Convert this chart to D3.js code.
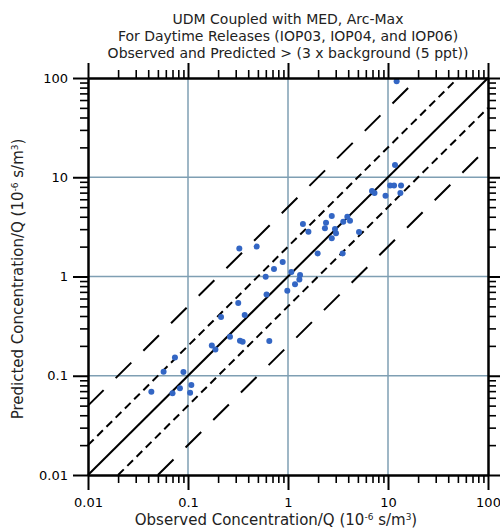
<!DOCTYPE html>
<html><head><meta charset="utf-8">
<script src="https://cdn.jsdelivr.net/npm/d3@7"></script>
<style>
body{margin:0;background:#fff}
svg{display:block}
text{font-family:"DejaVu Sans",Verdana,sans-serif}
</style>
</head><body>
<svg id="c" width="500" height="530"></svg>
<script>
// ---- data ----
const titleLines = [
  "UDM Coupled with MED, Arc-Max",
  "For Daytime Releases (IOP03, IOP04, and IOP06)",
  "Observed and Predicted > (3 x background (5 ppt))"
];
const observed = [0.043,0.057,0.070,0.074,0.083,0.090,0.105,0.108,0.173,0.188,
  0.263,0.331,0.352,0.650,0.214,0.318,0.369,0.610,0.984,1.175,
  1.30,1.32,1.08,0.598,0.724,0.885,0.326,0.486,1.41,1.60,
  1.98,2.40,2.34,2.74,2.95,3.02,2.74,3.57,3.92,4.17,
  5.13,3.52,6.92,7.33,9.44,10.5,11.5,13.5,13.3,11.75,12.2];
const predicted = [0.069,0.110,0.0665,0.153,0.0748,0.109,0.0675,0.0807,0.202,0.184,
  0.247,0.225,0.220,0.224,0.391,0.541,0.409,0.659,0.719,0.834,
  0.933,1.035,1.11,0.995,1.19,1.40,1.92,2.0,3.38,2.83,
  1.71,3.48,3.06,4.07,3.01,2.72,2.43,3.57,4.0,3.65,
  2.81,1.71,7.27,6.94,6.52,8.26,8.26,8.26,6.94,13.3,93];
const majorTicks = [0.01,0.1,1,10,100];
const tickLabels = ["0.01","0.1","1","10","100"];
const gridValues = [0.1,1,10];
const factors = [1,2,5];
const xTitle = ["Observed Concentration/Q (10","-6"," s/m","3",")"];
const yTitle = ["Predicted Concentration/Q (10","-6"," s/m","3",")"];

// ---- chart ----
const svg = d3.select("#c");
const x = d3.scaleLog().domain([0.01,100]).range([88,488]);
const y = d3.scaleLog().domain([0.01,100]).range([475,78]);
const minorTicks = [];
[0.01,0.1,1,10].forEach(d => { for (let k=2;k<=9;k++) minorTicks.push(+(d*k).toPrecision(3)); });

const gridColor = "#7f9fb3";
const g = svg.append("g");
g.selectAll("line.vg").data(gridValues).join("line")
  .attr("x1", d=>x(d)).attr("x2", d=>x(d)).attr("y1", y(100)).attr("y2", y(0.01))
  .attr("stroke", gridColor).attr("stroke-width", 1.5);
g.selectAll("line.hg").data(gridValues).join("line")
  .attr("y1", d=>y(d)).attr("y2", d=>y(d)).attr("x1", x(0.01)).attr("x2", x(100))
  .attr("stroke", gridColor).attr("stroke-width", 1.5);

// reference lines
const dashFor = {1:null, 2:"8,5", 5:"22,17"};
const refLines = [];
factors.forEach(f => {
  refLines.push({f, pts:[[0.01, 0.01*f],[100/f, 100]]});
  if (f !== 1) refLines.push({f, pts:[[0.01*f, 0.01],[100, 100/f]]});
});
const line = d3.line().x(d=>x(d[0])).y(d=>y(d[1]));
svg.append("g").selectAll("path").data(refLines).join("path")
  .attr("d", d=>line(d.pts)).attr("fill","none").attr("stroke","#000")
  .attr("stroke-width", 2).attr("stroke-dasharray", d=>dashFor[d.f]);

// points
svg.append("g").selectAll("circle").data(observed.map((o,i)=>[o,predicted[i]])).join("circle")
  .attr("cx", d=>x(d[0])).attr("cy", d=>y(d[1])).attr("r", 3).attr("fill","#3366c4");

// axes
function styleAxis(sel, w){
  sel.selectAll("path.domain").attr("stroke","#000").attr("stroke-width",2);
  sel.selectAll(".tick line").attr("stroke","#000").attr("stroke-width",w);
  sel.selectAll(".tick text").attr("fill","#000").style("font-size","13px")
    .style("font-family",'"DejaVu Sans",Verdana,sans-serif');
}
const fmt = d => tickLabels[majorTicks.indexOf(d)];
const axes = [
  [d3.axisBottom(x), "translate(0,475)", true],
  [d3.axisTop(x), "translate(0,78)", false],
  [d3.axisLeft(y), "translate(88,0)", true],
  [d3.axisRight(y), "translate(488,0)", false]
];
axes.forEach(([ax, tr, lab]) => {
  const gm = svg.append("g").attr("transform", tr)
    .call(ax.tickValues(minorTicks).tickSize(8).tickSizeOuter(0).tickFormat(""));
  styleAxis(gm, 1.6);
  const gM = svg.append("g").attr("transform", tr)
    .call(ax.tickValues(majorTicks).tickSize(15).tickSizeOuter(0)
      .tickPadding(tr.startsWith("translate(0,475") ? 8 : 5)
      .tickFormat(lab ? fmt : ""));
  styleAxis(gM, 2);
});

// titles
svg.append("g").selectAll("text").data(titleLines).join("text")
  .attr("x", 288).attr("y", (d,i)=>24+i*17).attr("text-anchor","middle")
  .attr("fill","#222").style("font-size","14px").text(d=>d);

function richTitle(sel, parts){
  parts.forEach((p,i) => {
    const sup = i%2===1;
    sel.append("tspan").text(p)
      .attr("dy", sup ? "-5" : (i>0 ? "5" : null))
      .style("font-size", sup ? "9px" : "15px");
  });
}
const xt = svg.append("text").attr("x", 276).attr("y", 525).attr("text-anchor","middle").attr("fill","#222");
richTitle(xt, xTitle);
const yt = svg.append("text").attr("transform","translate(23,279) rotate(-90)").attr("text-anchor","middle").attr("fill","#222");
richTitle(yt, yTitle);
</script>
</body></html>
